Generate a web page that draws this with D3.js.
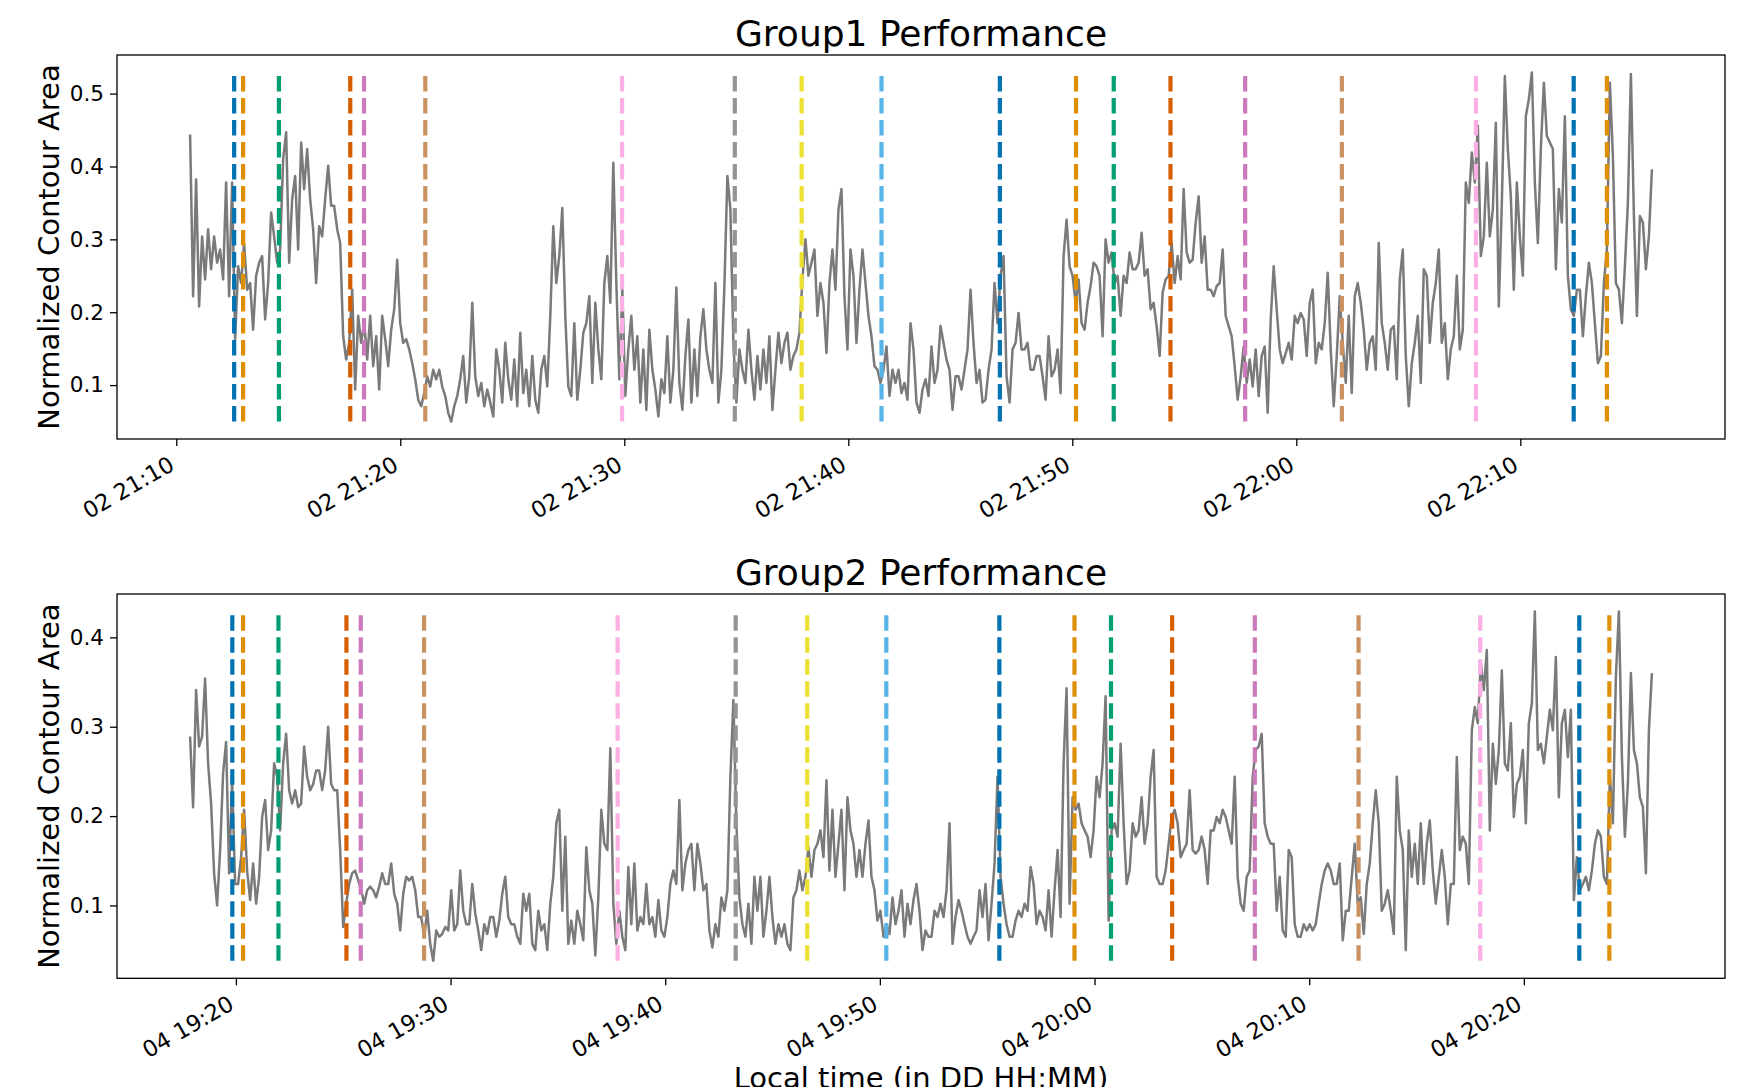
<!DOCTYPE html>
<html>
<head>
<meta charset="utf-8">
<script src="https://cdn.jsdelivr.net/npm/d3@7"></script>
<style>
  html, body { margin: 0; padding: 0; background: #fff; }
  svg text { font-family: "DejaVu Sans", sans-serif; fill: #000; }
</style>
</head>
<body>
<svg id="chart" width="1750" height="1087"></svg>
<script>
// group 1: one sample every group1Step seconds from group1Start
var group1Start = "2023-05-02 21:10:37";
var group1Step = 8.04;
var group1Values = [
  0.444,0.222,0.382,0.208,0.304,0.245,0.314,0.259,0.304,0.268,
  0.286,0.245,0.378,0.222,0.378,0.163,0.263,0.240,0.295,0.231,
  0.240,0.176,0.250,0.268,0.277,0.190,0.240,0.337,0.304,0.268,
  0.286,0.410,0.447,0.268,0.355,0.387,0.286,0.433,0.369,0.424,
  0.355,0.314,0.240,0.318,0.304,0.355,0.401,0.346,0.346,0.314,
  0.295,0.167,0.135,0.158,0.231,0.094,0.195,0.158,0.185,0.135,
  0.195,0.126,0.167,0.094,0.195,0.163,0.126,0.176,0.204,0.272,
  0.185,0.158,0.163,0.149,0.130,0.108,0.080,0.071,0.089,0.112,
  0.098,0.121,0.108,0.121,0.098,0.085,0.062,0.050,0.071,0.085,
  0.108,0.140,0.076,0.112,0.213,0.112,0.085,0.103,0.071,0.094,
  0.076,0.057,0.149,0.121,0.076,0.158,0.108,0.080,0.135,0.071,
  0.172,0.089,0.121,0.071,0.140,0.080,0.062,0.121,0.140,0.098,
  0.195,0.318,0.240,
  0.277,0.343,0.195,0.098,0.085,0.185,0.080,0.121,0.172,0.185,
  0.222,0.103,0.213,0.149,0.108,0.240,0.277,0.213,0.405,0.240,
  0.108,0.231,0.085,0.149,0.195,0.121,0.167,0.076,0.149,0.066,
  0.176,0.121,0.094,0.057,0.108,0.089,0.167,0.076,0.121,0.234,
  0.103,0.066,0.140,0.190,0.076,0.149,0.085,0.167,0.204,0.149,
  0.121,0.103,0.240,0.076,0.121,0.236,0.387,0.341,0.158,0.076,
  0.149,0.121,0.103,0.176,0.121,0.080,0.140,0.094,0.149,0.103,
  0.167,0.066,0.121,0.172,0.130,0.158,0.172,0.121,0.140,0.149,
  0.172,0.245,0.300,0.250,0.268,0.286,0.195,0.240,0.213,0.144,
  0.240,0.286,0.231,0.341,0.369,0.222,0.149,0.286,0.250,0.158,
  0.231,0.286,0.240,0.195,0.167,0.126,0.121,0.103,0.121,0.153,
  0.085,0.121,0.103,0.121,0.089,0.103,0.080,0.185,0.149,0.076,
  0.062,0.094,0.108,0.085,
  0.153,0.103,0.121,0.181,0.158,0.135,0.121,0.066,0.112,0.112,
  0.094,0.121,0.149,0.231,0.158,0.103,0.121,0.076,0.080,0.121,
  0.149,0.240,0.185,0.250,0.277,0.112,0.076,0.149,0.158,0.199,
  0.149,0.149,0.158,0.121,0.121,0.140,0.140,0.112,0.080,0.167,
  0.112,0.121,0.149,0.089,0.277,0.327,0.263,0.250,0.213,0.245,
  0.185,0.176,0.213,0.236,0.268,0.263,0.250,0.167,0.300,0.268,
  0.282,0.240,0.250,0.195,0.250,0.240,0.282,0.259,0.259,0.268,
  0.309,0.250,0.259,0.204,0.213,0.181,0.140,0.227,0.245,0.250,
  0.295,0.240,0.277,0.245,0.369,0.282,0.268,0.272,0.323,0.359,
  0.268,0.304,0.231,0.231,0.222,0.236,0.240,0.286,0.195,0.181,
  0.167,0.126,0.080,0.112,0.153,0.103,0.135,0.098,0.149,0.085,
  0.140,0.153,0.062,0.190,0.263,0.204,0.149,0.130,0.144,0.158,
  0.135,0.195,0.185,
  0.199,0.190,0.140,0.213,0.231,0.130,0.158,0.149,0.185,0.254,
  0.149,0.071,0.140,0.222,0.158,0.103,0.195,0.089,0.222,0.240,
  0.213,0.176,0.121,0.158,0.167,0.121,0.295,0.185,0.158,0.121,
  0.176,0.181,0.108,0.245,0.286,0.140,0.071,0.130,0.158,0.195,
  0.103,0.259,0.250,0.158,0.213,0.240,0.286,0.158,0.185,0.108,
  0.149,0.167,0.250,0.149,0.176,0.378,0.350,0.419,0.378,0.456,
  0.277,0.304,0.405,0.304,0.341,0.460,0.208,0.350,0.524,0.424,
  0.359,0.231,0.378,0.304,0.250,0.469,0.492,0.529,0.378,0.295,
  0.424,0.515,0.442,0.433,0.424,0.259,0.369,0.323,0.469,0.250,
  0.204,0.195,0.231,0.231,0.167,0.222,0.268,0.240,0.185,0.130,
  0.140,0.240,0.286,0.515,0.414,0.240,0.231,0.185,0.263,0.350,
  0.527,0.332,0.195,0.332,0.323,0.259,0.304,0.396
];
var group1Events = [
  "21:12:35","21:12:59","21:14:35","21:17:46","21:18:23","21:21:07","21:29:54",
  "21:34:56","21:37:55","21:41:29","21:46:46","21:50:10","21:51:51","21:54:23",
  "21:57:43","22:02:02","22:08:01","22:12:23","22:13:52"
];

// group 2
var group2Start = "2023-05-04 19:17:52";
var group2Step = 8.39;
var group2Values = [
  0.289,0.210,0.341,0.278,0.289,0.354,0.259,0.214,0.136,0.100,
  0.162,0.248,0.283,0.136,0.240,0.124,0.124,0.154,0.207,0.139,
  0.106,0.147,0.102,0.132,0.199,0.218,0.162,0.184,0.259,0.244,
  0.184,0.259,0.292,0.229,0.214,0.229,0.210,0.214,0.278,0.244,
  0.229,0.236,0.251,0.251,0.229,0.251,0.300,0.236,0.229,0.229,
  0.162,0.076,0.102,0.124,0.136,0.139,0.128,0.117,0.102,0.117,
  0.121,0.117,0.109,0.121,0.136,0.124,0.124,0.147,0.113,0.102,
  0.072,0.113,0.132,0.128,0.132,0.117,0.087,0.087,0.065,0.094,
  0.057,0.038,0.072,0.065,0.068,0.076,0.072,0.117,0.072,0.079,
  0.139,0.094,0.079,0.079,0.124,0.091,0.072,0.050,0.079,0.068,
  0.087,0.087,0.065,0.083,0.113,0.132,0.087,0.079,0.079,0.065,
  0.057,0.113,0.094,0.113,0.057,0.050,0.094,0.072,0.079,0.050,
  0.102,0.132,0.192,
  0.207,0.094,0.177,0.057,0.083,0.057,0.094,0.079,0.061,0.165,
  0.117,0.102,0.044,0.109,0.207,0.169,0.162,0.276,0.102,0.057,
  0.094,0.065,0.050,0.143,0.079,0.147,0.072,0.087,0.079,0.124,
  0.079,0.087,0.065,0.106,0.072,0.065,0.087,0.124,0.139,0.124,
  0.218,0.117,0.147,0.162,0.169,0.117,0.169,0.147,0.117,0.124,
  0.072,0.053,0.079,0.065,0.109,0.094,0.117,0.244,0.330,0.192,
  0.109,0.079,0.065,0.102,0.057,0.132,0.094,0.132,0.065,0.094,
  0.132,0.087,0.057,0.079,0.065,0.079,0.057,0.050,0.109,0.117,
  0.139,0.117,0.132,0.165,0.132,0.162,0.169,0.184,0.154,0.240,
  0.139,0.207,0.132,0.169,0.207,0.117,0.221,0.184,0.169,0.132,
  0.162,0.132,0.169,0.195,0.132,0.117,0.083,0.094,0.065,0.079,
  0.068,0.109,0.079,0.094,0.117,0.065,0.102,0.079,0.106,0.124,
  0.094,0.050,0.072,0.065,
  0.065,0.094,0.087,0.102,0.087,0.117,0.192,0.057,0.087,0.106,
  0.094,0.079,0.065,0.057,0.065,0.072,0.117,0.087,0.124,0.061,
  0.102,0.147,0.244,0.132,0.102,0.079,0.065,0.065,0.083,0.094,
  0.087,0.102,0.094,0.143,0.124,0.079,0.094,0.087,0.072,0.117,
  0.065,0.117,0.162,0.087,0.259,0.343,0.102,0.221,0.207,0.214,
  0.192,0.184,0.177,0.154,0.184,0.244,0.221,0.259,0.334,0.083,
  0.184,0.192,0.177,0.281,0.192,0.124,0.139,0.192,0.177,0.184,
  0.221,0.169,0.192,0.244,0.274,0.132,0.124,0.124,0.139,0.169,
  0.199,0.207,0.192,0.154,0.162,0.169,0.229,0.162,0.158,0.162,
  0.177,0.162,0.124,0.184,0.184,0.199,0.192,0.207,0.199,0.184,
  0.169,0.244,0.132,0.102,0.094,0.132,0.139,0.244,0.274,0.278,
  0.292,0.192,0.177,0.169,0.169,0.094,0.132,0.072,0.065,0.162,
  0.154,0.079,0.065,
  0.065,0.079,0.072,0.079,0.072,0.079,0.102,0.124,0.139,0.147,
  0.139,0.124,0.124,0.147,0.061,0.094,0.094,0.132,0.169,0.102,
  0.109,0.068,0.124,0.147,0.192,0.229,0.192,0.094,0.102,0.117,
  0.094,0.068,0.244,0.184,0.162,0.050,0.184,0.132,0.169,0.124,
  0.192,0.124,0.169,0.195,0.139,0.102,0.132,0.162,0.132,0.079,
  0.124,0.124,0.266,0.162,0.177,0.169,0.124,0.296,0.322,0.304,
  0.371,0.341,0.386,0.184,0.281,0.236,0.274,0.363,0.259,0.251,
  0.304,0.199,0.236,0.244,0.274,0.192,0.304,0.326,0.429,0.274,
  0.281,0.259,0.289,0.319,0.296,0.378,0.221,0.304,0.319,0.266,
  0.319,0.106,0.154,0.117,0.124,0.132,0.117,0.139,0.169,0.184,
  0.177,0.132,0.124,0.244,0.192,0.356,0.429,0.266,0.177,0.236,
  0.360,0.274,0.259,0.221,0.210,0.136,0.296,0.360
];
var group2Events = [
  "19:19:50","19:20:20","19:21:59","19:25:09","19:25:49","19:28:46","19:37:47",
  "19:43:17","19:46:37","19:50:18","19:55:34","19:59:04","20:00:46","20:03:37",
  "20:07:28","20:12:18","20:17:58","20:22:35","20:23:59"
];

// seaborn colorblind palette, one colour per event
var eventColors = [
  "#0173b2","#de8f05","#029e73","#d55e00","#cc78bc","#ca9161","#fbafe4",
  "#949494","#ece133","#56b4e9","#0173b2","#de8f05","#029e73","#d55e00",
  "#cc78bc","#ca9161","#fbafe4","#0173b2","#de8f05"
];

var titles = ["Group1 Performance", "Group2 Performance"];
var yTicks1 = [0.1, 0.2, 0.3, 0.4, 0.5];
var yTicks2 = [0.1, 0.2, 0.3, 0.4];
var yLabel = "Normalized Contour Area";
var xLabel = "Local time (in DD HH:MM)";

var left = 117, right = 1725;
var svg = d3.select('#chart');
var parseTime = d3.timeParse("%Y-%m-%d %H:%M:%S");
var tickFmt = d3.timeFormat("%d %H:%M");

function drawPanel(title, start, step, values, events, yTicks, top, bottom, id) {
  var t0 = parseTime(start);
  var data = values.map(function(v, i) {
    return { t: new Date(t0.getTime() + i * step * 1000), v: v };
  });
  var tMin = data[0].t, tMax = data[data.length - 1].t;
  var tPad = (tMax - tMin) * 0.05;
  var vMin = d3.min(values), vMax = d3.max(values);
  var vPad = (vMax - vMin) * 0.05;

  var x = d3.scaleTime()
    .domain([new Date(tMin.getTime() - tPad), new Date(tMax.getTime() + tPad)])
    .range([left, right]);
  var y = d3.scaleLinear()
    .domain([vMin - vPad, vMax + vPad])
    .range([bottom, top]);

  var g = svg.append('g');

  g.append('clipPath').attr('id', 'clip' + id)
    .append('rect')
    .attr('x', left).attr('y', top)
    .attr('width', right - left).attr('height', bottom - top);

  var line = d3.line()
    .x(function(d) { return x(d.t); })
    .y(function(d) { return y(d.v); });

  g.append('path')
    .datum(data)
    .attr('clip-path', 'url(#clip' + id + ')')
    .attr('fill', 'none')
    .attr('stroke', '#7a7a7a')
    .attr('stroke-width', 2.5)
    .attr('stroke-linejoin', 'round')
    .attr('d', line);

  // event markers span the data range, dashes start at the bottom
  var day = start.slice(0, 10);
  g.selectAll('line.event')
    .data(events)
    .enter().append('line')
    .attr('class', 'event')
    .attr('x1', function(d) { return x(parseTime(day + ' ' + d)); })
    .attr('x2', function(d) { return x(parseTime(day + ' ' + d)); })
    .attr('y1', y(vMin))
    .attr('y2', y(vMax))
    .attr('stroke', function(d, i) { return eventColors[i]; })
    .attr('stroke-width', 4.2)
    .attr('stroke-dasharray', '15.5,6.5');

  g.append('rect')
    .attr('x', left).attr('y', top)
    .attr('width', right - left).attr('height', bottom - top)
    .attr('fill', 'none')
    .attr('stroke', '#000')
    .attr('stroke-width', 1.3);

  var xAxis = g.append('g')
    .attr('transform', 'translate(0,' + bottom + ')')
    .call(d3.axisBottom(x).ticks(d3.timeMinute.every(10)).tickFormat(tickFmt).tickSize(7).tickSizeOuter(0));
  xAxis.select('.domain').remove();
  xAxis.selectAll('line').attr('stroke', '#000').attr('stroke-width', 1.3);
  xAxis.selectAll('text')
    .attr('x', 0).attr('y', 0).attr('dy', 0)
    .attr('text-anchor', 'end')
    .attr('transform', 'translate(-1,30) rotate(-30)')
    .style('font-size', '22.5px')
    .style('font-family', '"DejaVu Sans", sans-serif');

  var yAxis = g.append('g')
    .attr('transform', 'translate(' + left + ',0)')
    .call(d3.axisLeft(y).tickValues(yTicks).tickFormat(d3.format('.1f')).tickSize(7).tickPadding(6).tickSizeOuter(0));
  yAxis.select('.domain').remove();
  yAxis.selectAll('line').attr('stroke', '#000').attr('stroke-width', 1.3);
  yAxis.selectAll('text')
    .style('font-size', '21.5px')
    .style('font-family', '"DejaVu Sans", sans-serif');

  g.append('text')
    .attr('x', (left + right) / 2)
    .attr('y', top - 9)
    .attr('text-anchor', 'middle')
    .style('font-size', '36px')
    .text(title);

  g.append('text')
    .attr('transform', 'translate(59,' + (top + bottom) / 2 + ') rotate(-90)')
    .attr('text-anchor', 'middle')
    .style('font-size', '29px')
    .text(yLabel);
}

drawPanel(titles[0], group1Start, group1Step, group1Values, group1Events, yTicks1, 55, 439, 1);
drawPanel(titles[1], group2Start, group2Step, group2Values, group2Events, yTicks2, 594, 978.3, 2);

// the reference crops this label at the bottom edge
svg.append('text')
  .attr('x', (left + right) / 2)
  .attr('y', 1088)
  .attr('text-anchor', 'middle')
  .style('font-size', '29px')
  .text(xLabel);
</script>
</body>
</html>
